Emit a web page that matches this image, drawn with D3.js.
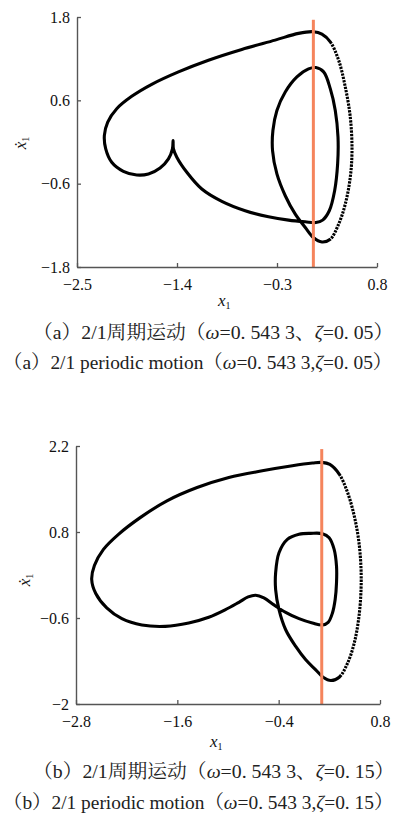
<!DOCTYPE html>
<html>
<head>
<meta charset="utf-8">
<script src="https://cdn.jsdelivr.net/npm/d3@7"></script>
<style>
  html, body { margin: 0; padding: 0; background: #fff; }
  svg { display: block; }
  .tick text { font-family: "Liberation Serif", "Times New Roman", serif; font-size: 16px; fill: #111; }
</style>
</head>
<body>
<svg id="fig" width="398" height="816"></svg>
<script>
// Phase portraits (x1, dx1/dt) of the 2/1 periodic motion for two damping ratios.

// (a) omega = 0.5433, zeta = 0.05 : one closed orbit, traced clockwise from the top crossing
const orbitA = [
  [0.10, 1.588], [0.194, 1.554], [0.286, 1.443], [0.378, 1.178], [0.451, 0.793], [0.506, 0.359],
  [0.525, -0.123], [0.506, -0.508], [0.451, -0.894], [0.378, -1.183], [0.286, -1.400], [0.194, -1.439],
  [0.10, -1.376], [0.011, -1.231], [-0.099, -1.039], [-0.209, -0.774], [-0.301, -0.460], [-0.349, -0.123],
  [-0.345, 0.166], [-0.301, 0.455], [-0.209, 0.720], [-0.081, 0.937], [0.047, 1.053], [0.128, 1.072],
  [0.213, 1.010], [0.286, 0.769], [0.341, 0.455], [0.371, 0.070], [0.367, -0.316], [0.334, -0.701],
  [0.275, -0.990], [0.202, -1.125], [0.128, -1.159], [0.011, -1.149], [-0.173, -1.125], [-0.393, -1.077],
  [-0.650, -0.990], [-0.907, -0.855], [-1.127, -0.677], [-1.292, -0.436], [-1.402, -0.219], [-1.439, -0.099],
  [-1.443, 0.022], [-1.450, -0.099], [-1.494, -0.243], [-1.586, -0.374], [-1.714, -0.460], [-1.843, -0.475],
  [-1.990, -0.422], [-2.118, -0.292], [-2.184, -0.099], [-2.199, 0.094], [-2.162, 0.287], [-2.063, 0.480],
  [-1.898, 0.658], [-1.678, 0.831], [-1.384, 1.010], [-1.054, 1.178], [-0.687, 1.333], [-0.320, 1.467],
  [-0.063, 1.564]
];
// sparse-sampled (fast) stretch of the orbit, as point indices
const fastA = [2, 10];
const xTicksA = [-2.5, -1.4, -0.3, 0.8];
const yTicksA = [-1.8, -0.6, 0.6, 1.8];
const sectionA = { x: 0.10, top: 1.76 };

// (b) omega = 0.5433, zeta = 0.15
const orbitB = [
  [0.11, 1.933], [0.206, 1.900], [0.317, 1.742], [0.416, 1.443], [0.495, 1.061], [0.546, 0.680],
  [0.574, 0.244], [0.574, -0.191], [0.546, -0.627], [0.495, -1.008], [0.416, -1.335], [0.317, -1.564],
  [0.218, -1.618], [0.126, -1.564], [0.039, -1.444], [-0.079, -1.281], [-0.198, -1.063], [-0.317, -0.791],
  [-0.396, -0.464], [-0.436, -0.137], [-0.436, 0.135], [-0.396, 0.462], [-0.297, 0.680], [-0.159, 0.762],
  [-0.020, 0.778], [0.118, 0.773], [0.198, 0.707], [0.257, 0.517], [0.285, 0.244], [0.285, -0.028],
  [0.269, -0.300], [0.237, -0.518], [0.186, -0.671], [0.118, -0.714], [0.0, -0.682], [-0.159, -0.611],
  [-0.317, -0.507], [-0.456, -0.387], [-0.575, -0.273], [-0.673, -0.229], [-0.761, -0.257], [-0.871, -0.344],
  [-1.030, -0.464], [-1.228, -0.589], [-1.465, -0.682], [-1.743, -0.736], [-2.020, -0.714], [-2.257, -0.611],
  [-2.436, -0.436], [-2.566, -0.202], [-2.614, 0.027], [-2.582, 0.255], [-2.475, 0.517], [-2.297, 0.762],
  [-2.040, 1.034], [-1.723, 1.307], [-1.366, 1.524], [-0.990, 1.688], [-0.594, 1.797], [-0.238, 1.879],
  [0.0, 1.922]
];
const fastB = [2, 11];
const xTicksB = [-2.8, -1.6, -0.4, 0.8];
const yTicksB = [-2, -0.6, 0.8, 2.2];
const sectionB = { x: 0.11, top: 2.15 };

// Captions (Chinese and English), split into roman / italic runs
const captionsA = [
  [["（a）2/1周期运动（", false], ["ω", true], ["=0. 543 3、", false], ["ζ", true], ["=0. 05）", false]],
  [["（a）2/1 periodic motion（", false], ["ω", true], ["=0. 543 3,", false], ["ζ", true], ["=0. 05）", false]]
];
const captionsB = [
  [["（b）2/1周期运动（", false], ["ω", true], ["=0. 543 3、", false], ["ζ", true], ["=0. 15）", false]],
  [["（b）2/1 periodic motion（", false], ["ω", true], ["=0. 543 3,", false], ["ζ", true], ["=0. 15）", false]]
];

const SERIF = '"Liberation Serif", "Times New Roman", "Noto Serif CJK SC", "Noto Sans CJK SC", serif';
const W = 398;
const svg = d3.select("#fig");
const fmt = d3.format("");

// arc length along a path at which it passes closest to a given point
function lengthAt(node, px, py, step) {
  const total = node.getTotalLength();
  let best = 0, bestD = Infinity;
  for (let l = 0; l <= total; l += step) {
    const p = node.getPointAtLength(l);
    const d = (p.x - px) ** 2 + (p.y - py) ** 2;
    if (d < bestD) { bestD = d; best = l; }
  }
  return best;
}

function panel(cfg) {
  const x = d3.scaleLinear().domain([cfg.xTicks[0], cfg.xTicks[cfg.xTicks.length - 1]]).range([cfg.left, cfg.right]);
  const y = d3.scaleLinear().domain([cfg.yTicks[0], cfg.yTicks[cfg.yTicks.length - 1]]).range([cfg.bottom, cfg.top]);
  const g = svg.append("g");

  // orbit: solid, except a dotted stretch where the samples are sparse
  const line = d3.line().x(d => x(d[0])).y(d => y(d[1])).curve(d3.curveCatmullRomClosed.alpha(0.5));
  const path = g.append("path").attr("d", line(cfg.orbit))
    .attr("fill", "none").attr("stroke", "#000").attr("stroke-width", 3.1)
    .attr("stroke-linejoin", "round");
  const node = path.node();
  const total = node.getTotalLength();
  const p0 = cfg.orbit[cfg.fast[0]], p1 = cfg.orbit[cfg.fast[1]];
  const l0 = lengthAt(node, x(p0[0]), y(p0[1]), 0.5);
  const l1 = lengthAt(node, x(p1[0]), y(p1[1]), 0.5);
  const dash = [l0, 0];
  const dot = 2.3, gap = 1.1;
  const n = Math.floor((l1 - l0) / (dot + gap));
  for (let i = 0; i < n; i++) dash.push(dot, gap);
  dash.push(total - l0 - n * (dot + gap) + 1, 0);
  path.attr("stroke-dasharray", dash.join(","));

  // Poincaré section line
  g.append("line")
    .attr("x1", x(cfg.section.x)).attr("x2", x(cfg.section.x))
    .attr("y1", y(cfg.section.top)).attr("y2", y(cfg.yTicks[0]))
    .attr("stroke", "#f5845c").attr("stroke-width", 3);

  // axes: ticks point inward
  const ax = g.append("g").attr("transform", `translate(0,${cfg.bottom})`)
    .call(d3.axisBottom(x).tickValues(cfg.xTicks).tickFormat(fmt).tickSizeInner(-4).tickSizeOuter(0).tickPadding(12));
  const ay = g.append("g").attr("transform", `translate(${cfg.left},0)`)
    .call(d3.axisLeft(y).tickValues(cfg.yTicks).tickFormat(fmt).tickSizeInner(-4).tickSizeOuter(0).tickPadding(7));
  [ax, ay].forEach(a => {
    a.select(".domain").attr("stroke", "#555").attr("stroke-width", 1.4);
    a.selectAll(".tick line").attr("stroke", "#555").attr("stroke-width", 1.3);
    a.selectAll(".tick text").style("font-family", SERIF).style("font-size", "16px").attr("fill", "#111");
  });

  // x1 label
  const xl = g.append("text").attr("x", cfg.xLabel[0]).attr("y", cfg.xLabel[1])
    .attr("font-family", SERIF).attr("font-size", 17).attr("fill", "#111");
  xl.append("tspan").attr("font-style", "italic").text("x");
  xl.append("tspan").attr("font-size", 10).attr("dy", 3).text("1");

  // dx1/dt label, rotated
  const yl = g.append("text").attr("transform", `translate(${cfg.yLabel[0]},${cfg.yLabel[1]}) rotate(-90)`)
    .attr("text-anchor", "middle")
    .attr("font-family", SERIF).attr("font-size", 17).attr("fill", "#111");
  yl.append("tspan").attr("font-style", "italic").text("ẋ");
  yl.append("tspan").attr("font-size", 10).attr("dy", 3).text("1");

  // captions; shrink a line if it would run past the right edge
  cfg.captions.forEach((runs, i) => {
    let size = 19.8;
    const t = g.append("text").attr("x", cfg.capX[i]).attr("y", cfg.capY[i])
      .attr("font-family", SERIF).attr("font-size", size).attr("fill", "#222");
    runs.forEach(([s, it]) => t.append("tspan").attr("font-style", it ? "italic" : "normal").text(s));
    const room = W - cfg.capX[i] - 2;
    while (t.node().getComputedTextLength() > room && size > 12) {
      size -= 0.2;
      t.attr("font-size", size);
    }
  });
}

panel({
  orbit: orbitA, fast: fastA, xTicks: xTicksA, yTicks: yTicksA, section: sectionA,
  left: 77, right: 377, top: 17, bottom: 267,
  xLabel: [218, 306], yLabel: [26, 143],
  captions: captionsA, capX: [33, 3], capY: [339, 369]
});

panel({
  orbit: orbitB, fast: fastB, xTicks: xTicksB, yTicks: yTicksB, section: sectionB,
  left: 76, right: 380, top: 446, bottom: 704,
  xLabel: [210, 747], yLabel: [30, 580],
  captions: captionsB, capX: [33, 3], capY: [778, 809]
});
</script>
</body>
</html>
